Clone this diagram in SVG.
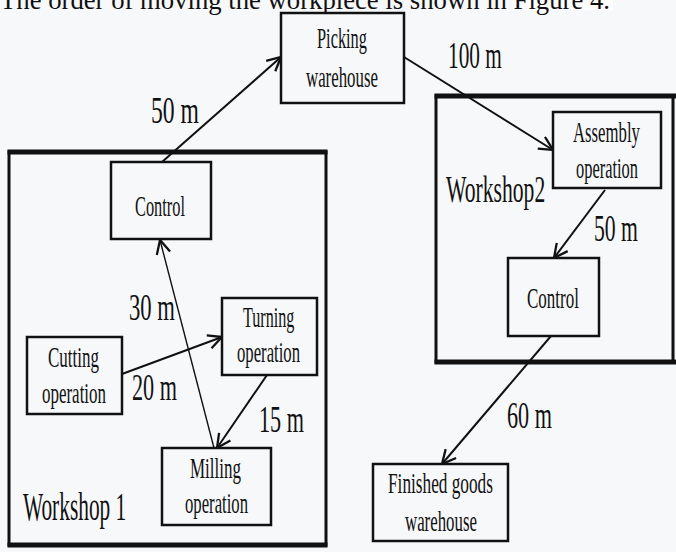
<svg xmlns="http://www.w3.org/2000/svg" width="676" height="552" viewBox="0 0 676 552">
<style>
.bg{fill:#f7f8fa}
.node rect{fill:#f7f8fa;stroke:#111;stroke-width:2.5}
.ws{fill:none;stroke:#111;stroke-width:3}
.wsb{stroke:#111;stroke-width:5}
text{font-family:"Liberation Serif","Times New Roman",serif;fill:#111}
.nt{font-size:30px}
.lb{font-size:38px}
.conn line{stroke:#111;stroke-width:2;fill:none}
.conn line.thin{stroke-width:1.4}
</style>
<defs>
<marker id="arr" markerUnits="userSpaceOnUse" markerWidth="16" markerHeight="16" viewBox="0 0 14 14" refX="13" refY="7" orient="auto">
<path d="M1,1 L13,7 L1,13" fill="none" stroke="#111" stroke-width="2"/>
</marker>
</defs>
<rect class="bg" x="0" y="0" width="676" height="552"/>
<rect x="512" y="0" width="101" height="10" fill="#fff"/>
<text x="0" y="9" style="font-size:26.7px">The order of moving the workpiece is shown in Figure 4.</text>

<g id="workshop1">
<rect class="ws" x="9" y="152" width="317" height="393"/>
<line class="wsb" x1="7.5" y1="152" x2="327.5" y2="152"/>
<line class="wsb" x1="7.5" y1="545" x2="327.5" y2="545"/>
<text class="lb" transform="translate(23,520) scale(0.534,1)" style="font-size:40px">Workshop 1</text>
</g>
<g id="workshop2">
<rect class="ws" x="436" y="96" width="237" height="266"/>
<line class="wsb" x1="434.5" y1="96" x2="676" y2="96"/>
<line class="wsb" x1="434.5" y1="362" x2="676" y2="362"/>
<text class="lb" transform="translate(446,202) scale(0.585,1)" style="font-size:37px">Workshop2</text>
</g>

<g class="conn" id="connectors">
<line x1="122" y1="374" x2="222" y2="337" marker-end="url(#arr)"/>
<line x1="267" y1="375" x2="217" y2="448" marker-end="url(#arr)"/>
<line class="thin" x1="214" y1="448" x2="160" y2="240" marker-end="url(#arr)"/>
<line x1="162" y1="162" x2="281" y2="57" marker-end="url(#arr)"/>
<line x1="404" y1="57" x2="553" y2="150" marker-end="url(#arr)"/>
<line x1="605" y1="190" x2="554" y2="258" marker-end="url(#arr)"/>
<line x1="551" y1="336" x2="442" y2="464" marker-end="url(#arr)"/>
<text class="lb" transform="translate(151,123) scale(0.623,1)">50 m</text>
<text class="lb" transform="translate(448,68) scale(0.56,1)">100 m</text>
<text class="lb" transform="translate(129,320) scale(0.597,1)">30 m</text>
<text class="lb" transform="translate(132,400) scale(0.584,1)">20 m</text>
<text class="lb" transform="translate(259,432) scale(0.584,1)">15 m</text>
<text class="lb" transform="translate(594,241) scale(0.571,1)">50 m</text>
<text class="lb" transform="translate(507,428) scale(0.584,1)">60 m</text>
</g>

<g class="node" id="picking">
<rect x="281" y="13" width="123" height="90"/>
<text class="nt" transform="translate(317,48) scale(0.545,1)">Picking</text>
<text class="nt" transform="translate(306,87) scale(0.561,1)">warehouse</text>
</g>
<g class="node" id="control1">
<rect x="111" y="162" width="100" height="77"/>
<text class="nt" transform="translate(135,216) scale(0.545,1)">Control</text>
</g>
<g class="node" id="turning">
<rect x="222" y="298" width="95" height="77"/>
<text class="nt" transform="translate(243,327) scale(0.538,1)">Turning</text>
<text class="nt" transform="translate(237,362) scale(0.556,1)">operation</text>
</g>
<g class="node" id="cutting">
<rect x="27" y="337" width="95" height="77"/>
<text class="nt" transform="translate(48,367) scale(0.567,1)">Cutting</text>
<text class="nt" transform="translate(42,403) scale(0.565,1)">operation</text>
</g>
<g class="node" id="milling">
<rect x="162" y="448" width="109" height="77"/>
<text class="nt" transform="translate(190,478) scale(0.567,1)">Milling</text>
<text class="nt" transform="translate(185,513) scale(0.556,1)">operation</text>
</g>
<g class="node" id="assembly">
<rect x="553" y="112" width="108" height="76"/>
<text class="nt" transform="translate(573,142) scale(0.558,1)">Assembly</text>
<text class="nt" transform="translate(576,178) scale(0.547,1)">operation</text>
</g>
<g class="node" id="control2">
<rect x="508" y="258" width="91" height="78"/>
<text class="nt" transform="translate(527,308) scale(0.567,1)">Control</text>
</g>
<g class="node" id="finished">
<rect x="373" y="464" width="135" height="77"/>
<text class="nt" transform="translate(388,493) scale(0.575,1)">Finished goods</text>
<text class="nt" transform="translate(405,531) scale(0.561,1)">warehouse</text>
</g>
</svg>
